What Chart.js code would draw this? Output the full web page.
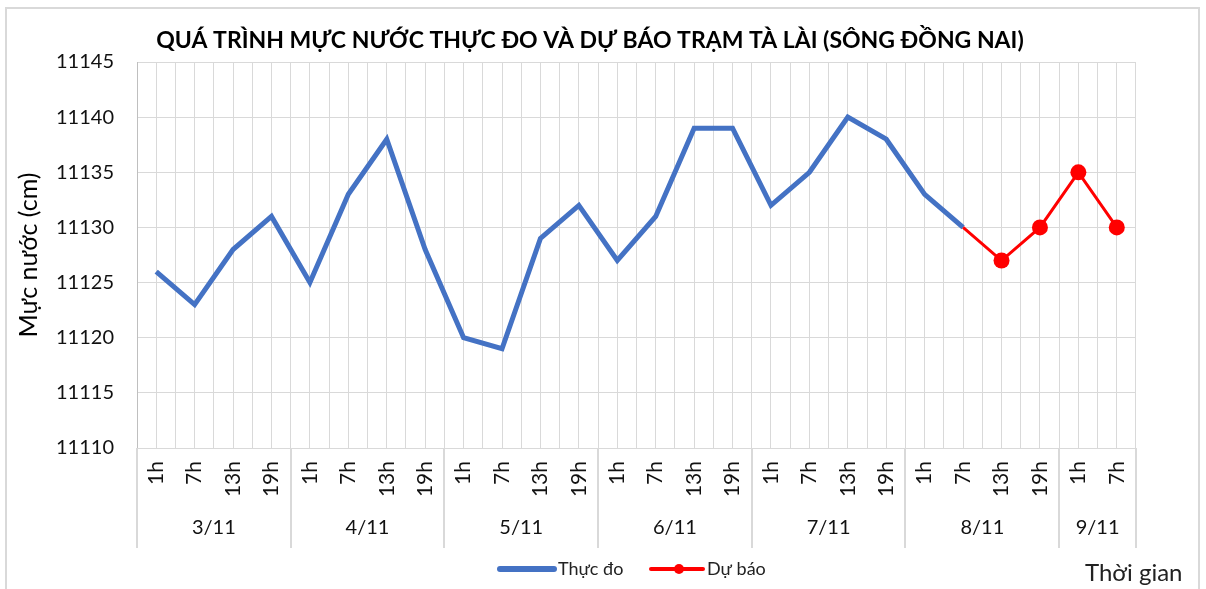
<!DOCTYPE html>
<html>
<head>
<meta charset="utf-8">
<script src="https://cdn.jsdelivr.net/npm/chart.js@4.4.0/dist/chart.umd.min.js"></script>
<style>
	html, body { margin: 0; padding: 0; background: #fff; overflow: hidden; }
	#frame { position: absolute; left: 5px; top: 7px; width: 1195px; height: 640px; border: 2px solid #d9d9d9; box-sizing: border-box; }
	#wrap { position: absolute; left: 0; top: 0; width: 1206px; height: 589px; }
</style>
</head>
<body>
<div id="frame"></div>
<div id="wrap"><canvas id="chart"></canvas></div>
<script>
// categories
const hours = [
	'1h', '7h', '13h', '19h',
	'1h', '7h', '13h', '19h',
	'1h', '7h', '13h', '19h',
	'1h', '7h', '13h', '19h',
	'1h', '7h', '13h', '19h',
	'1h', '7h', '13h', '19h',
	'1h', '7h'
];
const days = ['3/11', '4/11', '5/11', '6/11', '7/11', '8/11', '9/11'];
const daySpans = [4, 4, 4, 4, 4, 4, 2];

// series (cm)
const measured = [
	11126, 11123, 11128, 11131,
	11125, 11133, 11138, 11128,
	11120, 11119, 11129, 11132,
	11127, 11131, 11139, 11139,
	11132, 11135, 11140, 11138,
	11133, 11130, null, null,
	null, null
];
const forecast = [
	null, null, null, null,
	null, null, null, null,
	null, null, null, null,
	null, null, null, null,
	null, null, null, null,
	null, 11130, 11127, 11130,
	11135, 11130
];

const yMin = 11110;
const yMax = 11145;
const yStep = 5;

const FONT = 'Lato, "Open Sans", sans-serif';
const GRID = '#d9d9d9';
const BLUE = '#4472c4';
const RED = '#ff0000';

const decor = {
	id: 'decor',
	afterDraw(chart) {
		const ctx = chart.ctx;
		const x = chart.scales.x;

		ctx.save();

		// title
		ctx.fillStyle = '#000';
		ctx.font = 'bold 23px ' + FONT;
		ctx.textAlign = 'center';
		ctx.textBaseline = 'middle';
		ctx.fillText('QUÁ TRÌNH MỰC NƯỚC THỰC ĐO VÀ DỰ BÁO TRẠM TÀ LÀI (SÔNG ĐỒNG NAI)', 590, 41);

		// day groups under the hour labels
		ctx.strokeStyle = GRID;
		ctx.lineWidth = 2;
		ctx.fillStyle = '#111';
		ctx.font = '20px ' + FONT;
		let start = 0;
		const edges = [start];
		daySpans.forEach((span, i) => {
			const left = x.getPixelForValue(start - 0.5);
			const right = x.getPixelForValue(start + span - 0.5);
			ctx.fillText(days[i], (left + right) / 2, x.bottom - 20);
			start += span;
			edges.push(start);
		});
		edges.forEach(e => {
			const px = Math.round(x.getPixelForValue(e - 0.5));
			ctx.beginPath();
			ctx.moveTo(px, x.top);
			ctx.lineTo(px, x.bottom);
			ctx.stroke();
		});

		// legend
		const ly = 569;
		ctx.lineCap = 'round';
		ctx.strokeStyle = BLUE;
		ctx.lineWidth = 6;
		ctx.beginPath();
		ctx.moveTo(500, ly);
		ctx.lineTo(554, ly);
		ctx.stroke();

		ctx.strokeStyle = RED;
		ctx.lineWidth = 4;
		ctx.beginPath();
		ctx.moveTo(651, ly);
		ctx.lineTo(703, ly);
		ctx.stroke();
		ctx.fillStyle = RED;
		ctx.beginPath();
		ctx.arc(679, ly, 5, 0, Math.PI * 2);
		ctx.fill();

		ctx.fillStyle = '#222';
		ctx.font = '18px ' + FONT;
		ctx.textAlign = 'left';
		ctx.fillText('Thực đo', 558, ly);
		ctx.fillText('Dự báo', 707, ly);

		// axis name
		ctx.font = '24px ' + FONT;
		ctx.fillText('Thời gian', 1085, 573);

		ctx.restore();
	}
};

new Chart(document.getElementById('chart'), {
	type: 'line',
	data: {
		labels: hours,
		datasets: [
			{
				label: 'Thực đo',
				data: measured,
				borderColor: BLUE,
				backgroundColor: BLUE,
				borderWidth: 5,
				pointRadius: 0,
				pointHoverRadius: 0,
				tension: 0,
				order: 1,
			},
			{
				label: 'Dự báo',
				data: forecast,
				borderColor: RED,
				backgroundColor: RED,
				borderWidth: 3,
				pointRadius: ctx => (measured[ctx.dataIndex] !== null ? 0 : 8),
				pointBorderWidth: 0,
				pointHoverRadius: 8,
				tension: 0,
				order: 0,
			}
		]
	},
	options: {
		responsive: true,
		maintainAspectRatio: false,
		animation: false,
		events: [],
		layout: {
			padding: { left: 5, top: 62, right: 70, bottom: 41 }
		},
		plugins: {
			legend: { display: false },
			title: { display: false },
			tooltip: { enabled: false },
		},
		scales: {
			x: {
				type: 'category',
				position: 'bottom',
				offset: true,
				grid: { offset: true, color: GRID, lineWidth: 1, drawTicks: false },
				border: { color: GRID, width: 1 },
				ticks: {
					autoSkip: false,
					maxRotation: 90,
					minRotation: 90,
					padding: 13,
					color: '#111',
					font: { family: FONT, size: 21 },
				},
				afterFit: s => { s.height = 100; },
			},
			x2: {
				type: 'category',
				position: 'top',
				offset: true,
				grid: { offset: false, color: GRID, lineWidth: 1, drawTicks: false },
				border: { display: false },
				ticks: { display: false },
				afterFit: s => { s.height = 0; },
			},
			y: {
				min: yMin,
				max: yMax,
				grid: { color: GRID, lineWidth: 1, drawTicks: false },
				border: { color: '#bfbfbf', width: 1 },
				ticks: {
					stepSize: yStep,
					padding: 23,
					color: '#111',
					font: { family: FONT, size: 20 },
					callback: v => String(v),
				},
				title: {
					display: true,
					text: 'Mực nước (cm)',
					color: '#000',
					font: { family: FONT, size: 25 },
					padding: { top: 9, bottom: 0 },
				},
				afterFit: s => { s.width = 132; },
			}
		}
	},
	plugins: [decor]
});
</script>
</body>
</html>
